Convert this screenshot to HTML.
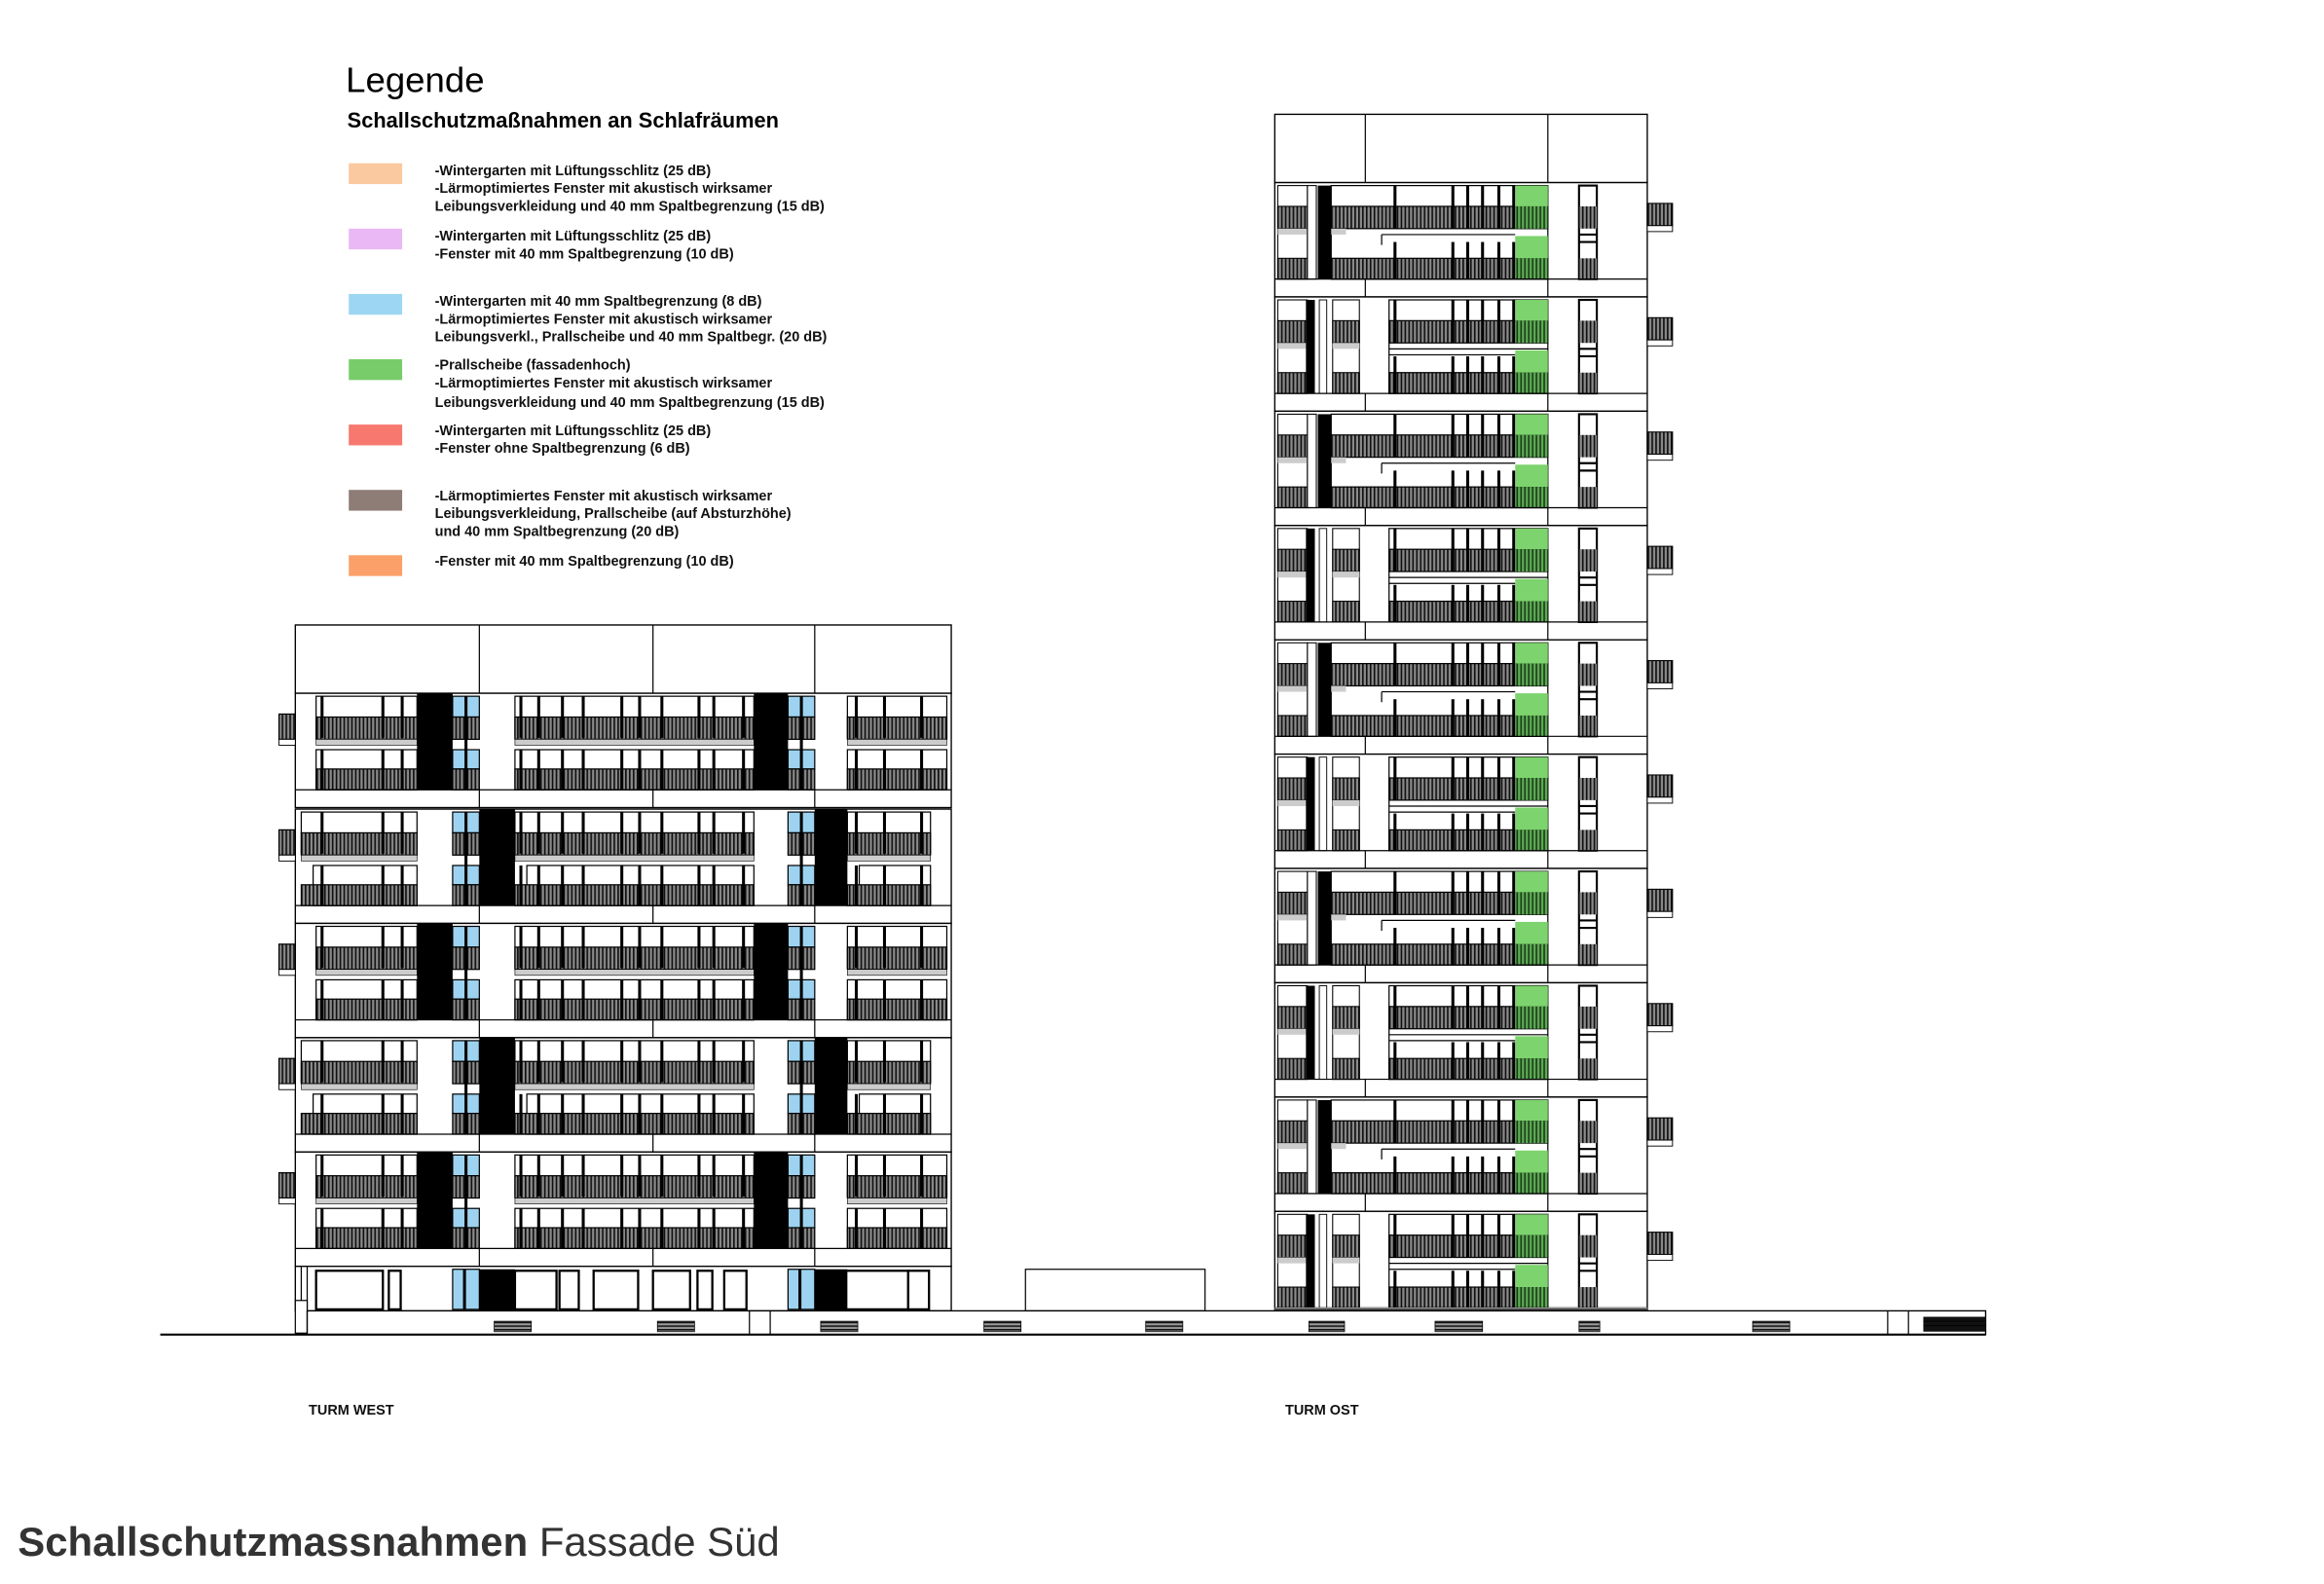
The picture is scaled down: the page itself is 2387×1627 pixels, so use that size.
<!DOCTYPE html>
<html><head><meta charset="utf-8">
<style>
html,body{margin:0;padding:0;background:#fff;width:2387px;height:1627px;overflow:hidden}
svg{display:block}
text{font-family:"Liberation Sans",Arial,sans-serif}
</style></head><body>
<svg id="s" xmlns="http://www.w3.org/2000/svg" width="2387" height="1627" viewBox="0 0 1566 1067" preserveAspectRatio="none">
<defs>
<pattern id="h" width="2.6" height="10" patternUnits="userSpaceOnUse">
<rect width="2.6" height="10" fill="#8a8a8a"/><rect width="1.1" height="10" fill="#111"/>
</pattern>
<pattern id="hg" width="2.6" height="10" patternUnits="userSpaceOnUse">
<rect width="2.6" height="10" fill="#5fae55"/><rect width="1.1" height="10" fill="#1a3a18"/>
</pattern>
<pattern id="hz" width="10" height="2.4" patternUnits="userSpaceOnUse">
<rect width="10" height="2.4" fill="#999"/><rect width="10" height="1" fill="#111"/>
</pattern>
</defs>
<g id="draw"></g>
<text x="233" y="62" font-size="24" fill="#000">Legende</text>
<text x="234" y="86" font-size="14.3" fill="#000" style="font-weight:bold">Schallschutzmaßnahmen an Schlafräumen</text>
<rect x="235" y="110" width="36" height="14" fill="#fbc99f"/>
<rect x="235" y="154" width="36" height="14" fill="#eab8f5"/>
<rect x="235" y="198" width="36" height="14" fill="#9dd6f3"/>
<rect x="235" y="242" width="36" height="14" fill="#78cd6a"/>
<rect x="235" y="286" width="36" height="14" fill="#f7786e"/>
<rect x="235" y="330" width="36" height="14" fill="#8e7c77"/>
<rect x="235" y="374" width="36" height="14" fill="#fba068"/>
<g font-size="9.5" font-weight="bold" fill="#111">
<text x="293" y="118">-Wintergarten mit Lüftungsschlitz (25 dB)</text>
<text x="293" y="130">-Lärmoptimiertes Fenster mit akustisch wirksamer</text>
<text x="293" y="142">Leibungsverkleidung und 40 mm Spaltbegrenzung (15 dB)</text>
<text x="293" y="162">-Wintergarten mit Lüftungsschlitz (25 dB)</text>
<text x="293" y="174">-Fenster mit 40 mm Spaltbegrenzung (10 dB)</text>
<text x="293" y="206">-Wintergarten mit 40 mm Spaltbegrenzung (8 dB)</text>
<text x="293" y="218">-Lärmoptimiertes Fenster mit akustisch wirksamer</text>
<text x="293" y="230">Leibungsverkl., Prallscheibe und 40 mm Spaltbegr. (20 dB)</text>
<text x="293" y="249">-Prallscheibe (fassadenhoch)</text>
<text x="293" y="261">-Lärmoptimiertes Fenster mit akustisch wirksamer</text>
<text x="293" y="274">Leibungsverkleidung und 40 mm Spaltbegrenzung (15 dB)</text>
<text x="293" y="293">-Wintergarten mit Lüftungsschlitz (25 dB)</text>
<text x="293" y="305">-Fenster ohne Spaltbegrenzung (6 dB)</text>
<text x="293" y="337">-Lärmoptimiertes Fenster mit akustisch wirksamer</text>
<text x="293" y="349">Leibungsverkleidung, Prallscheibe (auf Absturzhöhe)</text>
<text x="293" y="361">und 40 mm Spaltbegrenzung (20 dB)</text>
<text x="293" y="381">-Fenster mit 40 mm Spaltbegrenzung (10 dB)</text>
<text x="208" y="953">TURM WEST</text>
<text x="866" y="953">TURM OST</text>
</g>
<text x="12" y="1048" font-size="27.5" fill="#333"><tspan font-weight="bold">Schallschutzmassnahmen</tspan> Fassade Süd</text>
</svg>
<script>
var g=document.getElementById('draw'),NS='http://www.w3.org/2000/svg';
function R(x,y,w,h,f,s,sw){var e=document.createElementNS(NS,'rect');e.setAttribute('x',x);e.setAttribute('y',y);e.setAttribute('width',w);e.setAttribute('height',h);e.setAttribute('fill',f||'none');if(s){e.setAttribute('stroke',s);e.setAttribute('stroke-width',sw||0.8);}g.appendChild(e);}
function L(x1,y1,x2,y2,sw){var e=document.createElementNS(NS,'line');e.setAttribute('x1',x1);e.setAttribute('y1',y1);e.setAttribute('x2',x2);e.setAttribute('y2',y2);e.setAttribute('stroke','#000');e.setAttribute('stroke-width',sw||0.8);g.appendChild(e);}
function bars(xs,y0,y1){xs.forEach(function(x){R(x,y0,2,y1-y0,'#000');});}
R(199,421,442,46,'#fff','#000',0.9);[323,440,549].forEach(function(x){L(x,421,x,467);});
function westFloor(y0,odd,h){
  h=h||77;
  R(199,y0,442,h,'#fff','#000',0.9);
  var rails=odd?[[203,281],[347,508],[571,627]]:[[213,281],[347,508],[571,638]];
  var black=odd?[[323,347],[549,571]]:[[281,305],[508,531]];
  var blue=[[305,323],[531,549]];
  rails.forEach(function(r){
    R(r[0],y0+2,r[1]-r[0],28,'#fff','#000',0.8);
    R(r[0],y0+16,r[1]-r[0],15,'url(#h)','#000',0.8);
    R(r[0],y0+31,r[1]-r[0],4,'#ccc','#000',0.4);
    R(r[0]+(odd?8:0),y0+38,r[1]-r[0]-(odd?8:0),27,'#fff','#000',0.8);
    R(r[0],y0+51,r[1]-r[0],14,'url(#h)','#000',0.8);
  });
  var wx=[216,257,270,350,362,378,392,418,430,445,470,480,500,576,595,620];
  wx.forEach(function(x){if(x<(odd?627:638))bars([x],y0+2,y0+30);bars([x],y0+38,y0+65);});
  blue.forEach(function(b){
    R(b[0],y0+2,b[1]-b[0],14,'#9dd3f0','#000',0.8);
    R(b[0],y0+16,b[1]-b[0],15,'url(#h)','#000',0.8);
    R(b[0],y0+38,b[1]-b[0],13,'#9dd3f0','#000',0.8);
    R(b[0],y0+51,b[1]-b[0],14,'url(#h)','#000',0.8);
    bars([b[0]+8],y0+2,y0+65);
  });
  black.forEach(function(b){R(b[0],y0,b[1]-b[0],65,'#000');});
  L(199,y0+65,641,y0+65);
  [323,440,549].forEach(function(x){L(x,y0+65,x,y0+77);});
  R(188,y0+14,11,17,'url(#h)','#000',0.8);R(188,y0+31,11,4,'#fff','#000',0.6);
}
[467,545,622,699,776].forEach(function(y,i){westFloor(y,i%2==1);});
R(199,853,442,30,'#fff','#000',0.9);
[[213,258],[262,270],[347,375],[377,390],[400,430],[440,465],[470,480],[488,503],[570,612],[612,626]].forEach(function(r){R(r[0],856,r[1]-r[0],26,'#fff','#000',1.5);});
R(305,855,18,27,'#9dd3f0','#000',0.8);bars([312],855,882);R(531,855,18,27,'#9dd3f0','#000',0.8);bars([538],855,882);
R(323,855,24,28,'#000');R(549,855,22,28,'#000');
L(203,853,203,882);L(207,853,207,882);
R(199,876,8,22,'#fff','#000',0.8);
R(691,855,121,28,'#fff','#000',0.8);
R(859,77,251,46,'#fff','#000',0.9);L(920,77,920,123);L(1043,77,1043,123);
function eastFloor(y0,A){
  R(859,y0,251,77,'#fff','#000',0.9);
  R(861,y0+2,20,63,'#fff','#000',0.7);
  R(861,y0+16,20,15,'url(#h)','#000',0.7);R(861,y0+31,20,4,'#ccc');
  R(861,y0+51,20,14,'url(#h)','#000',0.7);
  if(A){R(881,y0+2,6,63,'#fff','#000',0.7);R(888,y0+2,9,63,'#000');R(897,y0+2,146,63,'#fff','#000',0.8);
    R(897,y0+16,146,15,'url(#h)','#000',0.8);R(897,y0+31,10,4,'#ccc');R(897,y0+51,146,14,'url(#h)','#000',0.8);
    L(931,y0+35,1021,y0+35);L(931,y0+35,931,y0+42);
  } else {
    R(880,y0+2,6,63,'#000');R(889,y0+2,5,63,'#fff','#000',0.6);
    R(898,y0+2,18,63,'#fff','#000',0.7);R(898,y0+16,18,15,'url(#h)','#000',0.7);R(898,y0+31,18,4,'#ccc');R(898,y0+51,18,14,'url(#h)','#000',0.7);
    R(936,y0+2,107,63,'#fff','#000',0.8);R(936,y0+16,107,15,'url(#h)','#000',0.8);R(936,y0+51,107,14,'url(#h)','#000',0.8);
    L(936,y0+35,1043,y0+35);L(936,y0+39,1021,y0+39);
  }
  bars([939,978,988,998,1009,1019],y0+2,y0+31);
  bars([939,978,988,998,1009,1019],y0+40,y0+65);
  R(1021,y0+2,22,14,'#7dd36d');R(1021,y0+16,22,15,'url(#hg)');
  R(1021,y0+36,22,15,'#7dd36d');R(1021,y0+51,22,14,'url(#hg)');
  R(1064,y0+2,12,63,'#fff','#000',1.4);R(1064,y0+16,12,15,'url(#h)');R(1064,y0+51,12,14,'url(#h)');L(1064,y0+35,1076,y0+35,1.4);L(1064,y0+40,1076,y0+40,1.4);
  L(859,y0+65,1110,y0+65);L(920,y0+65,920,y0+77);L(1043,y0+65,1043,y0+77);
  R(1110,y0+14,17,15,'url(#h)','#000',0.7);R(1110,y0+29,17,4,'#fff','#000',0.6);
}
[123,200,277,354,431,508,585,662,739,816].forEach(function(y,i){eastFloor(y,i%2==0);});
R(859,881,251,2,'#fff');L(859,882,1110,882);
R(207,883,1131,16,'#fff','#000',0.9);
[505,519,1272,1286].forEach(function(x){L(x,883,x,899);});
[[333,25],[443,25],[553,25],[663,25],[772,25],[882,24],[967,32],[1064,14],[1181,25]].forEach(function(m){R(m[0],890,m[1],7,'url(#hz)','#000',0.5);});
R(1296,887,42,10,'#111');L(1296,890,1338,890,0.6);L(1296,893,1338,893,0.6);
L(108,899,1338,899,1.4);
</script>
</body></html>
